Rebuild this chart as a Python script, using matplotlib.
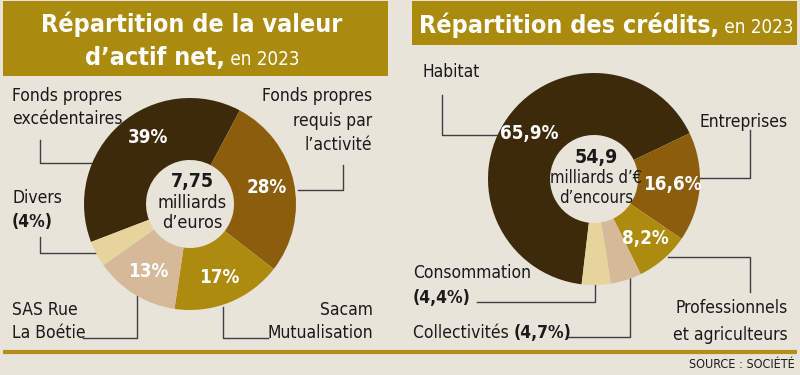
import matplotlib.pyplot as plt
import numpy as np
from matplotlib import font_manager as fm
from matplotlib.patches import Rectangle

# données
actif_labels = ["Fonds propres\nexcédentaires", "Fonds propres\nrequis par\nl’activité",
                "Sacam\nMutualisation", "SAS Rue\nLa Boétie", "Divers"]
actif_values = [39, 28, 17, 13, 4]
actif_total = "7,75"
actif_unit = ["milliards", "d’euros"]

credit_labels = ["Habitat", "Entreprises", "Professionnels\net agriculteurs",
                 "Collectivités", "Consommation"]
credit_values = [65.9, 16.6, 8.2, 4.7, 4.4]
credit_total = "54,9"
credit_unit = ["milliards d’€", "d’encours"]

palette = ["#3d2a0b", "#8b5d0c", "#ad8b0f", "#d5b998", "#e5d59d"]
BG = "#e8e4da"
GOLD = "#ab8b0e"
TXT = "#1a1a1a"


def find_font(bold):
    # police étroite si disponible
    prefs = ["liberationsansnarrow", "dejavusanscondensed", "robotocondensed",
             "opensanscondensed", "notosanscondensed", "notosansdisplaycondensed"]
    files = [f.fname for f in fm.fontManager.ttflist]
    for pref in prefs:
        for p in files:
            name = p.lower().replace('-', '').replace('_', '').split('/')[-1]
            if not name.startswith(pref):
                continue
            if 'italic' in name or 'oblique' in name:
                continue
            rest = name[len(pref):]
            if bold and rest.startswith('bold'):
                return p
            if not bold and (rest.startswith('regular') or rest.startswith('.')):
                return p
    return None


F_REG = find_font(False)
F_BOLD = find_font(True)


def fp(size, bold):
    path = F_BOLD if bold else F_REG
    if path:
        return fm.FontProperties(fname=path, size=size)
    return fm.FontProperties(family='DejaVu Sans', size=size * 0.9,
                             weight='bold' if bold else 'normal')


W, H = 800, 375
fig = plt.figure(figsize=(8, 3.75), dpi=100, facecolor=BG)
ax = fig.add_axes([0, 0, 1, 1])
ax.set_facecolor(BG)
R = fig.canvas.get_renderer()

LAB = 12.5


def Y(y):
    return H - y


def rich(x, y, parts, ha='left', color=TXT, va='center'):
    # parts: liste de (texte, gras, taille)
    arts = []
    for s, b, fs in parts:
        arts.append(ax.text(0, Y(y), s, fontproperties=fp(fs or LAB, b), color=color,
                            ha='left', va=va))
    widths = [a.get_window_extent(R).width for a in arts]
    tot = sum(widths)
    x0 = {'left': x, 'right': x - tot, 'center': x - tot / 2}[ha]
    for a, w in zip(arts, widths):
        a.set_x(x0)
        x0 += w


def fmt(v):
    return f"{v:g}%".replace('.', ',')


def label(x, y, name, value, ha, mode, step=24):
    lines = name.split('\n')
    for k, ln in enumerate(lines):
        if mode == 'inline' and k == len(lines) - 1:
            rich(x, y + k * step, [(ln + " ", False, None), (f"({fmt(value)})", True, None)], ha=ha)
        else:
            rich(x, y + k * step, [(ln, False, None)], ha=ha)
    if mode == 'newline':
        rich(x, y + len(lines) * step, [(f"({fmt(value)})", True, None)], ha=ha)


def donut(values, center, startangle, pct_shift):
    cx, cy = center
    wedges, _ = ax.pie(values, colors=palette, startangle=startangle, counterclock=False,
                       radius=106, center=(cx, Y(cy)),
                       wedgeprops=dict(width=62, linewidth=0))
    for i, w in enumerate(wedges):
        if values[i] < 8:
            continue
        th = np.deg2rad((w.theta1 + w.theta2) / 2 + pct_shift.get(i, 0))
        ax.text(cx + 79 * np.cos(th), Y(cy) + 79 * np.sin(th), fmt(values[i]),
                color='white', fontproperties=fp(13.5, True), ha='center', va='center')


# titres
ax.add_patch(Rectangle((3, Y(76)), 385, 75, color=GOLD, lw=0))
ax.add_patch(Rectangle((412, Y(45)), 385, 44, color=GOLD, lw=0))
rich(192, 32, [("Répartition de la valeur", True, 18)], ha='center', color='white', va='baseline')
rich(192, 65, [("d’actif net,", True, 18), (" en 2023", False, 13.5)], ha='center',
     color='white', va='baseline')
rich(606, 33, [("Répartition des crédits,", True, 18), (" en 2023", False, 13.5)], ha='center',
     color='white', va='baseline')

# donut gauche
c1 = (190, 204)
donut(actif_values, c1, 201, {0: -9})
rich(c1[0] + 2, 182, [(actif_total, True, 14)], ha='center')
for k, s in enumerate(actif_unit):
    rich(c1[0] + 2, 203 + k * 20, [(s, False, 13)], ha='center')

# donut droit
c2 = (594, 179)
donut(credit_values, c2, 263.3, {})
rich(c2[0] + 2, 157, [(credit_total, True, 14)], ha='center')
for k, s in enumerate(credit_unit):
    rich(c2[0] + 2, 178 + k * 20, [(s, False, 12)], ha='center')

# étiquettes
label(12, 96, actif_labels[0], actif_values[0], 'left', None, 23)
label(372, 96, actif_labels[1], actif_values[1], 'right', None, 24.5)
label(373, 310, actif_labels[2], actif_values[2], 'right', None, 23)
label(12, 310, actif_labels[3], actif_values[3], 'left', None, 23)
label(12, 198, actif_labels[4], actif_values[4], 'left', 'newline', 24)

label(422, 72, credit_labels[0], credit_values[0], 'left', None)
label(788, 122, credit_labels[1], credit_values[1], 'right', None)
label(788, 308, credit_labels[2], credit_values[2], 'right', None, 27)
label(413, 333, credit_labels[3], credit_values[3], 'left', 'inline')
label(413, 273, credit_labels[4], credit_values[4], 'left', 'newline', 25)

# traits de rappel
leaders = [
    [(40, 140), (40, 163), (92, 163)],
    [(343, 165), (343, 190), (298, 190)],
    [(40, 237), (40, 253), (97, 253)],
    [(83, 338), (137, 338), (137, 295)],
    [(223, 307), (223, 338), (268, 338)],
    [(442, 95), (442, 135), (497, 135)],
    [(750, 130), (750, 178), (698, 178)],
    [(668, 257), (750, 257), (750, 292)],
    [(477, 302), (595, 302), (595, 282)],
    [(567, 337), (630, 337), (630, 278)],
]
for pts in leaders:
    xs, ys = zip(*pts)
    ax.plot(xs, [Y(v) for v in ys], color="#3f3f3f", lw=1.0, zorder=0.5)

# filet et source
ax.plot([3, 797], [Y(352), Y(352)], color="#b0901a", lw=3, solid_capstyle='butt')
rich(795, 365, [("SOURCE : SOCIÉTÉ", False, 9)], ha='right')

ax.set_xlim(0, W)
ax.set_ylim(0, H)
ax.set_aspect('auto')
ax.axis('off')

fig.savefig("out.png", dpi=100, facecolor=BG)
